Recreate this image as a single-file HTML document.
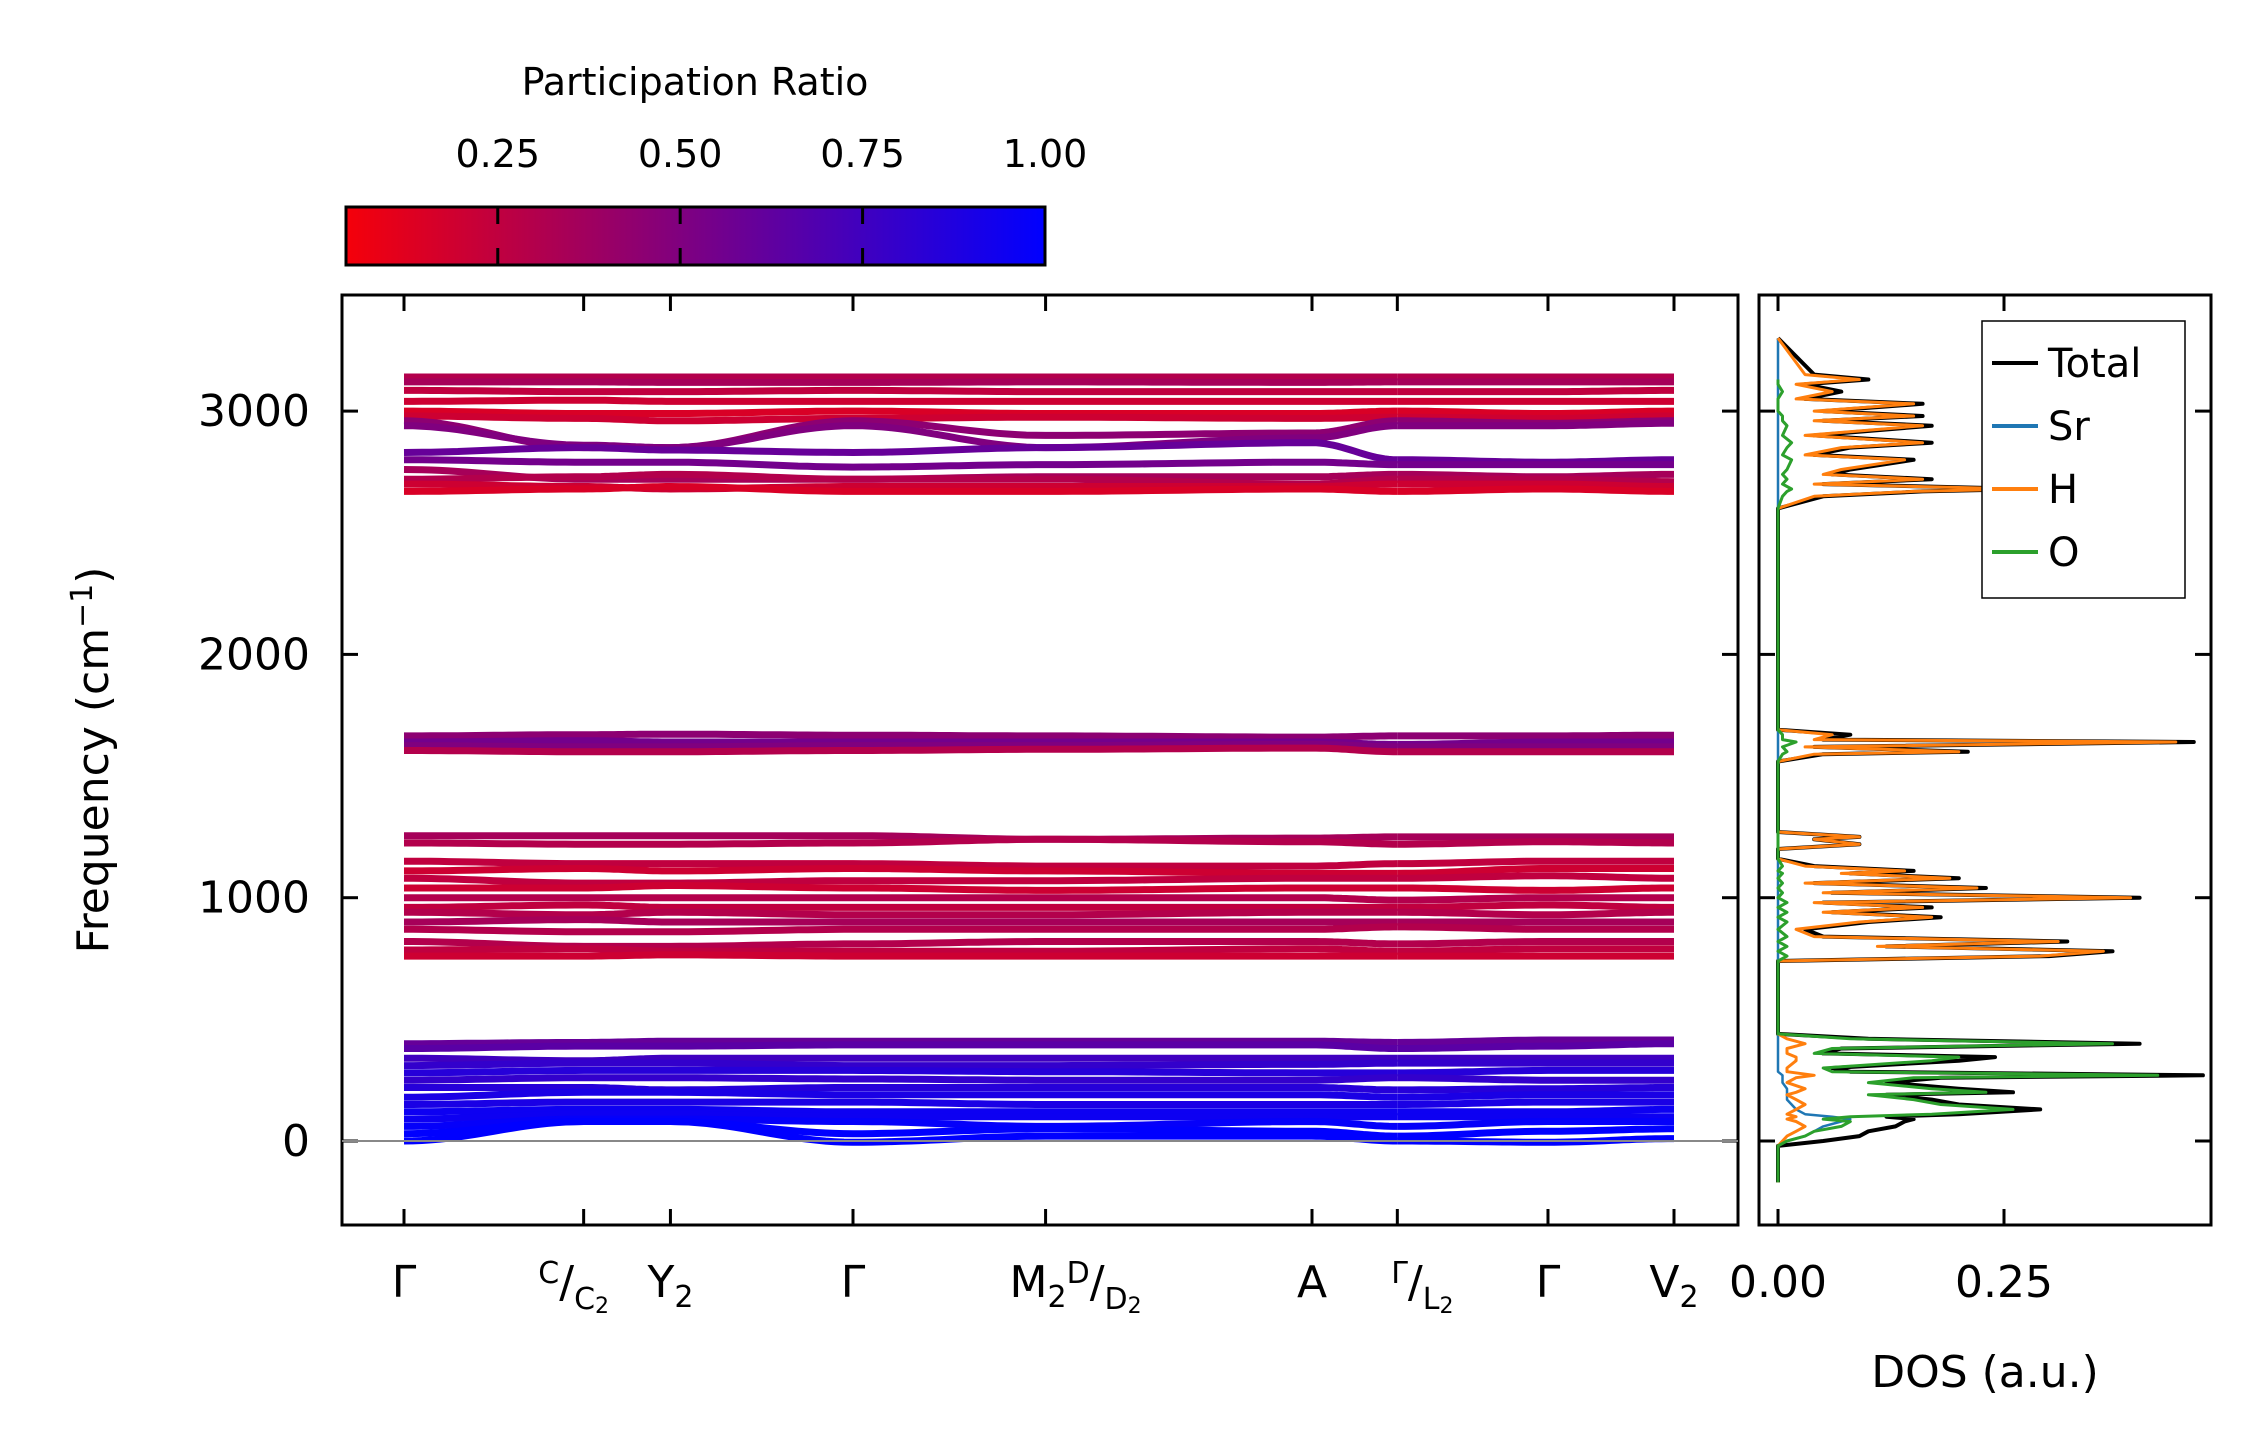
<!DOCTYPE html>
<html><head><meta charset="utf-8"><style>
body{margin:0;background:#fff}
svg{display:block}
text{font-family:"DejaVu Sans","Liberation Sans",sans-serif;fill:#000}
</style></head><body>
<svg id="fig" width="2259" height="1455" viewBox="0 0 2259 1455" xmlns="http://www.w3.org/2000/svg">
<defs>
<linearGradient id="cmap" x1="0" x2="1" y1="0" y2="0"><stop offset="0" stop-color="#f5000a"/><stop offset="1" stop-color="#0000ff"/></linearGradient>
<clipPath id="bclip"><rect x="342" y="295" width="1396" height="930"/></clipPath>
<clipPath id="dclip"><rect x="1759" y="295" width="452" height="930"/></clipPath>
</defs>
<g id="bands" clip-path="url(#bclip)"></g>
<g id="dos" clip-path="url(#dclip)"></g>
<g id="axes"></g>
</svg>
<script>
const NS="http://www.w3.org/2000/svg";
const svg=document.getElementById('fig');
function el(t,a,p){const e=document.createElementNS(NS,t);for(const k in a)e.setAttribute(k,a[k]);(p||svg).appendChild(e);return e;}

// ---- data ----
const kPos=[0,0.737,1.093,1.842,2.632,3.725,4.075,4.693,5.21];
const bandVals=[
[3140,3140,3140,3140,3140,3140,3140,3140,3140],
[3120,3120,3118,3118,3120,3118,3120,3120,3120],
[3085,3080,3080,3085,3080,3080,3080,3080,3085],
[3040,3045,3040,3040,3040,3040,3040,3040,3040],
[3000,2990,2990,3000,2990,2990,3000,2990,3000],
[2980,2970,2960,2970,2975,2970,2975,2970,2980],
[2960,2850,2850,2960,2900,2910,2960,2950,2960],
[2940,2860,2850,2940,2850,2890,2940,2940,2950],
[2830,2850,2840,2830,2850,2870,2800,2790,2800],
[2800,2790,2790,2770,2780,2790,2780,2780,2780],
[2760,2720,2720,2720,2730,2730,2740,2730,2740],
[2720,2730,2740,2720,2720,2700,2720,2720,2710],
[2700,2690,2680,2690,2690,2690,2700,2700,2690],
[2670,2680,2690,2670,2670,2680,2670,2680,2670],
[1665,1670,1672,1668,1665,1660,1665,1665,1668],
[1640,1645,1640,1640,1640,1640,1630,1640,1640],
[1625,1620,1620,1625,1625,1630,1620,1620,1620],
[1605,1600,1600,1605,1610,1615,1600,1600,1600],
[1255,1255,1255,1255,1240,1245,1250,1250,1250],
[1225,1220,1220,1225,1240,1230,1220,1230,1225],
[1150,1140,1140,1140,1130,1130,1140,1150,1150],
[1110,1120,1110,1120,1110,1100,1100,1120,1120],
[1080,1060,1060,1070,1070,1080,1080,1090,1080],
[1040,1040,1050,1040,1030,1040,1040,1030,1040],
[1000,1000,1000,1000,1000,1000,990,1000,1000],
[960,970,960,960,960,960,960,970,960],
[940,930,940,930,930,940,940,930,940],
[900,910,900,900,900,900,900,900,900],
[870,860,860,870,870,870,880,870,870],
[820,800,800,810,820,820,810,820,820],
[785,790,780,780,780,790,780,790,790],
[760,760,765,760,760,760,760,760,760],
[400,405,410,410,410,410,405,415,415],
[380,390,390,395,395,395,380,390,400],
[340,330,340,340,340,340,340,340,340],
[310,320,320,310,310,315,320,320,320],
[280,290,290,290,285,280,280,290,290],
[250,260,260,255,250,250,260,250,250],
[220,220,210,220,220,220,210,215,220],
[180,200,200,190,190,190,180,190,190],
[150,160,160,160,150,150,150,160,160],
[120,130,130,120,120,120,120,120,130],
[90,110,110,100,100,100,100,100,100],
[60,90,90,80,60,80,60,80,80],
[30,80,80,30,50,40,20,40,50],
[0,80,80,-5,20,20,0,-5,10]
];
const bandPR=[0.3,0.35,0.25,0.2,0.15,0.2,0.45,0.5,0.6,0.55,0.35,0.3,0.2,0.15,
0.45,0.55,0.5,0.3,0.35,0.3,0.25,0.2,0.25,0.2,0.3,0.25,0.3,0.35,0.3,0.3,0.25,0.2,
0.6,0.65,0.75,0.8,0.85,0.8,0.85,0.9,0.9,0.95,0.95,0.98,1.0,1.0];

const dosF=[-170,-20,0,20,40,60,80,90,100,110,130,150,170,190,200,215,240,260,270,285,300,330,345,360,380,400,420,440,
700,740,760,780,800,820,840,870,900,920,940,960,980,1000,1020,1040,1060,1080,1100,1110,1130,1160,1200,1220,1240,1250,1270,1300,
1560,1590,1600,1620,1640,1650,1670,1690,1720,2600,2650,2670,2680,2700,2720,2740,2760,2800,2820,2850,2870,2900,2940,2960,2980,3000,3030,3050,3080,3110,3130,3150,3300];
const dosTotal=[0,0,0.05,0.09,0.1,0.13,0.14,0.15,0.12,0.2,0.29,0.2,0.17,0.12,0.26,0.2,0.12,0.18,0.47,0.08,0.06,0.2,0.24,0.05,0.07,0.4,0.1,0,
0,0,0.3,0.37,0.12,0.32,0.05,0.03,0.1,0.18,0.06,0.17,0.05,0.4,0.06,0.23,0.04,0.2,0.08,0.15,0.04,0,0,0.09,0.04,0.09,0,0,
0,0.05,0.21,0.04,0.46,0.05,0.08,0,0,0,0.05,0.16,0.28,0.05,0.17,0.06,0.08,0.15,0.04,0.08,0.17,0.04,0.17,0.05,0.16,0.05,0.16,0.03,0.07,0.03,0.1,0.04,0];
const dosSr=[0,0,0.01,0.03,0.04,0.05,0.07,0.08,0.06,0.03,0.02,0.015,0.01,0.01,0.01,0.01,0.005,0.005,0.005,0,0,0,0,0,0,0,0,0,
0,0,0,0,0,0,0,0,0,0,0,0,0,0,0,0,0,0,0,0,0,0,0,0,0,0,0,0,
0,0,0,0,0,0,0,0,0,0,0,0,0,0,0,0,0,0,0,0,0,0,0,0,0,0,0,0,0,0,0,0,0];
const dosH=[0,0,0.005,0.01,0.02,0.03,0.02,0.01,0.02,0.01,0.02,0.03,0.02,0.01,0.02,0.03,0.01,0.02,0.04,0.01,0.01,0.02,0.02,0.01,0.01,0.03,0.01,0,
0,0,0.29,0.36,0.11,0.31,0.04,0.02,0.09,0.17,0.05,0.16,0.04,0.39,0.05,0.22,0.03,0.19,0.07,0.14,0.03,0,0,0.09,0.04,0.09,0,0,
0,0.04,0.2,0.03,0.44,0.04,0.06,0,0,0,0.04,0.15,0.27,0.04,0.16,0.05,0.07,0.14,0.03,0.07,0.16,0.03,0.16,0.04,0.15,0.04,0.15,0.02,0.06,0.02,0.09,0.03,0];
const dosO=[0,0,0.01,0.03,0.04,0.07,0.08,0.05,0.08,0.17,0.26,0.18,0.15,0.1,0.23,0.17,0.1,0.15,0.42,0.06,0.05,0.17,0.2,0.04,0.06,0.37,0.08,0,
0,0,0.01,0,0.01,0,0.01,0,0.01,0,0.01,0,0.01,0,0.005,0,0.005,0,0.005,0,0.005,0,0,0,0,0,0,0,
0,0.005,0.01,0.005,0.02,0.005,0.005,0,0,0,0.005,0.01,0.015,0.005,0.01,0.005,0.01,0.015,0.005,0.01,0.015,0.005,0.01,0.005,0.005,0,0,0,0.005,0,0];

const yTicks=[0,1000,2000,3000];
const dosTicks=[0,0.25];
const cbTicks=[0.25,0.5,0.75,1.0];

// ---- scales ----
const Y=f=>1141-f*0.2433;
const X=k=>404+k*(1674-404)/5.21;
const DX=v=>1778+v*904;
const prMin=0.042,prMax=1.0;
function prColor(p){const t=Math.max(0,Math.min(1,(p-prMin)/(prMax-prMin)));return `rgb(${Math.round(245*(1-t))},0,${Math.round(10+245*t)})`;}

// ---- bands ----
const bg=document.getElementById('bands');
bandVals.forEach((vals,bi)=>{
  [[0,6],[6,8]].forEach(([a,b])=>{
    let d='';
    for(let i=a;i<b;i++){
      const x0=X(kPos[i]),x1=X(kPos[i+1]);
      for(let s=0;s<=20;s++){const t=s/20,u=(1-Math.cos(Math.PI*t))/2;
        const f=vals[i]+(vals[i+1]-vals[i])*u;
        d+=(d?'L':'M')+(x0+(x1-x0)*t).toFixed(1)+','+Y(f).toFixed(1);}
    }
    const p=el('path',{d:d,fill:'none',stroke:prColor(bandPR[bi]),'stroke-width':7},bg);
    
    
  });
});
const zl=el('line',{x1:342,x2:1738,y1:Y(0),y2:Y(0),stroke:'#888','stroke-width':2});



// ---- DOS ----
const dg=document.getElementById('dos');
function dosLine(vals,col,w,name){
  let d='';dosF.forEach((f,i)=>{d+=(i?'L':'M')+DX(vals[i]).toFixed(1)+','+Y(f).toFixed(1);});
  const p=el('path',{d:d,fill:'none',stroke:col,'stroke-width':w,'stroke-linejoin':'round'},dg);
  
  
}
dosLine(dosTotal,'#000',4,'dos-total');
dosLine(dosSr,'#1f77b4',2.5,'dos-sr');
dosLine(dosH,'#ff7f0e',3,'dos-h');
dosLine(dosO,'#2ca02c',3,'dos-o');

// ---- axes ----
const ag=document.getElementById('axes');
const f1=el('rect',{x:342,y:295,width:1396,height:930,fill:'none',stroke:'#000','stroke-width':3},ag);


const f2=el('rect',{x:1759,y:295,width:452,height:930,fill:'none',stroke:'#000','stroke-width':3},ag);


yTicks.forEach(v=>{
  const y=Y(v);
  el('line',{x1:342,x2:358,y1:y,y2:y,stroke:'#000','stroke-width':3},ag);
  el('line',{x1:1722,x2:1738,y1:y,y2:y,stroke:'#000','stroke-width':3},ag);
  el('line',{x1:1759,x2:1775,y1:y,y2:y,stroke:'#000','stroke-width':3},ag);
  el('line',{x1:2195,x2:2211,y1:y,y2:y,stroke:'#000','stroke-width':3},ag);
  const t=el('text',{x:310,y:y+15,'text-anchor':'end','font-size':44},ag);
  t.textContent=v;
  
  
});
kPos.forEach(k=>{const x=X(k);
  el('line',{x1:x,x2:x,y1:295,y2:311,stroke:'#000','stroke-width':3},ag);
  el('line',{x1:x,x2:x,y1:1209,y2:1225,stroke:'#000','stroke-width':3},ag);});
dosTicks.forEach(v=>{const x=DX(v);
  el('line',{x1:x,x2:x,y1:295,y2:311,stroke:'#000','stroke-width':3},ag);
  el('line',{x1:x,x2:x,y1:1209,y2:1225,stroke:'#000','stroke-width':3},ag);
  const t=el('text',{x:x,y:1297,'text-anchor':'middle','font-size':44},ag);
  t.textContent=v.toFixed(2);
  
  });
const kl=[
 'Γ',
 '<tspan font-size="30" dy="-14">C</tspan><tspan dy="14">/</tspan><tspan font-size="30" dy="12">C</tspan><tspan font-size="22" dy="4">2</tspan>',
 'Y<tspan font-size="30" dy="10">2</tspan>',
 'Γ',
 'M<tspan font-size="30" dy="10">2</tspan><tspan font-size="30" dy="-24">D</tspan><tspan dy="14">/</tspan><tspan font-size="30" dy="12">D</tspan><tspan font-size="22" dy="4">2</tspan>',
 'A',
 '<tspan font-size="30" dy="-14">Γ</tspan><tspan dy="14">/</tspan><tspan font-size="30" dy="12">L</tspan><tspan font-size="22" dy="4">2</tspan>',
 'Γ',
 'V<tspan font-size="30" dy="10">2</tspan>'];
const kOff=[0,-10,0,0,30,0,25,0,0];
kl.forEach((h,i)=>{const t=el('text',{x:X(kPos[i])+kOff[i],y:1297,'text-anchor':'middle','font-size':44},ag);
  t.innerHTML=h;
  
  });
const yl=el('text',{x:0,y:0,'font-size':44,'text-anchor':'middle',transform:'translate(108,760) rotate(-90)'},ag);
yl.innerHTML='Frequency (cm<tspan font-size="30" dy="-16">−1</tspan><tspan dy="16">)</tspan>';


const dl=el('text',{x:1985,y:1387,'text-anchor':'middle','font-size':44},ag);
dl.textContent='DOS (a.u.)';



const lg=el('g',{},ag);


el('rect',{x:1982,y:321,width:203,height:277,fill:'#fff',stroke:'#000','stroke-width':1.5},lg);
[['Total','#000'],['Sr','#1f77b4'],['H','#ff7f0e'],['O','#2ca02c']].forEach((e,i)=>{
  const y=363+i*63;
  const ln=el('line',{x1:1992,x2:2038,y1:y,y2:y,stroke:e[1],'stroke-width':4},lg);
  
  
  const t=el('text',{x:2048,y:y+14,'font-size':40},lg);
  t.textContent=e[0];
  
  });

const cb=el('rect',{x:346,y:207,width:699,height:58,fill:'url(#cmap)',stroke:'#000','stroke-width':3},ag);


const CX=v=>346+(v-prMin)/(prMax-prMin)*699;
cbTicks.forEach(v=>{const x=CX(v);
  if(v<1){el('line',{x1:x,x2:x,y1:207,y2:224,stroke:'#000','stroke-width':3},ag);el('line',{x1:x,x2:x,y1:248,y2:265,stroke:'#000','stroke-width':3},ag);}
  const t=el('text',{x:x,y:167,'text-anchor':'middle','font-size':38},ag);
  t.textContent=v.toFixed(2);
  
  });
const ct=el('text',{x:695,y:95,'text-anchor':'middle','font-size':38},ag);
ct.textContent='Participation Ratio';


</script>
</body></html>
